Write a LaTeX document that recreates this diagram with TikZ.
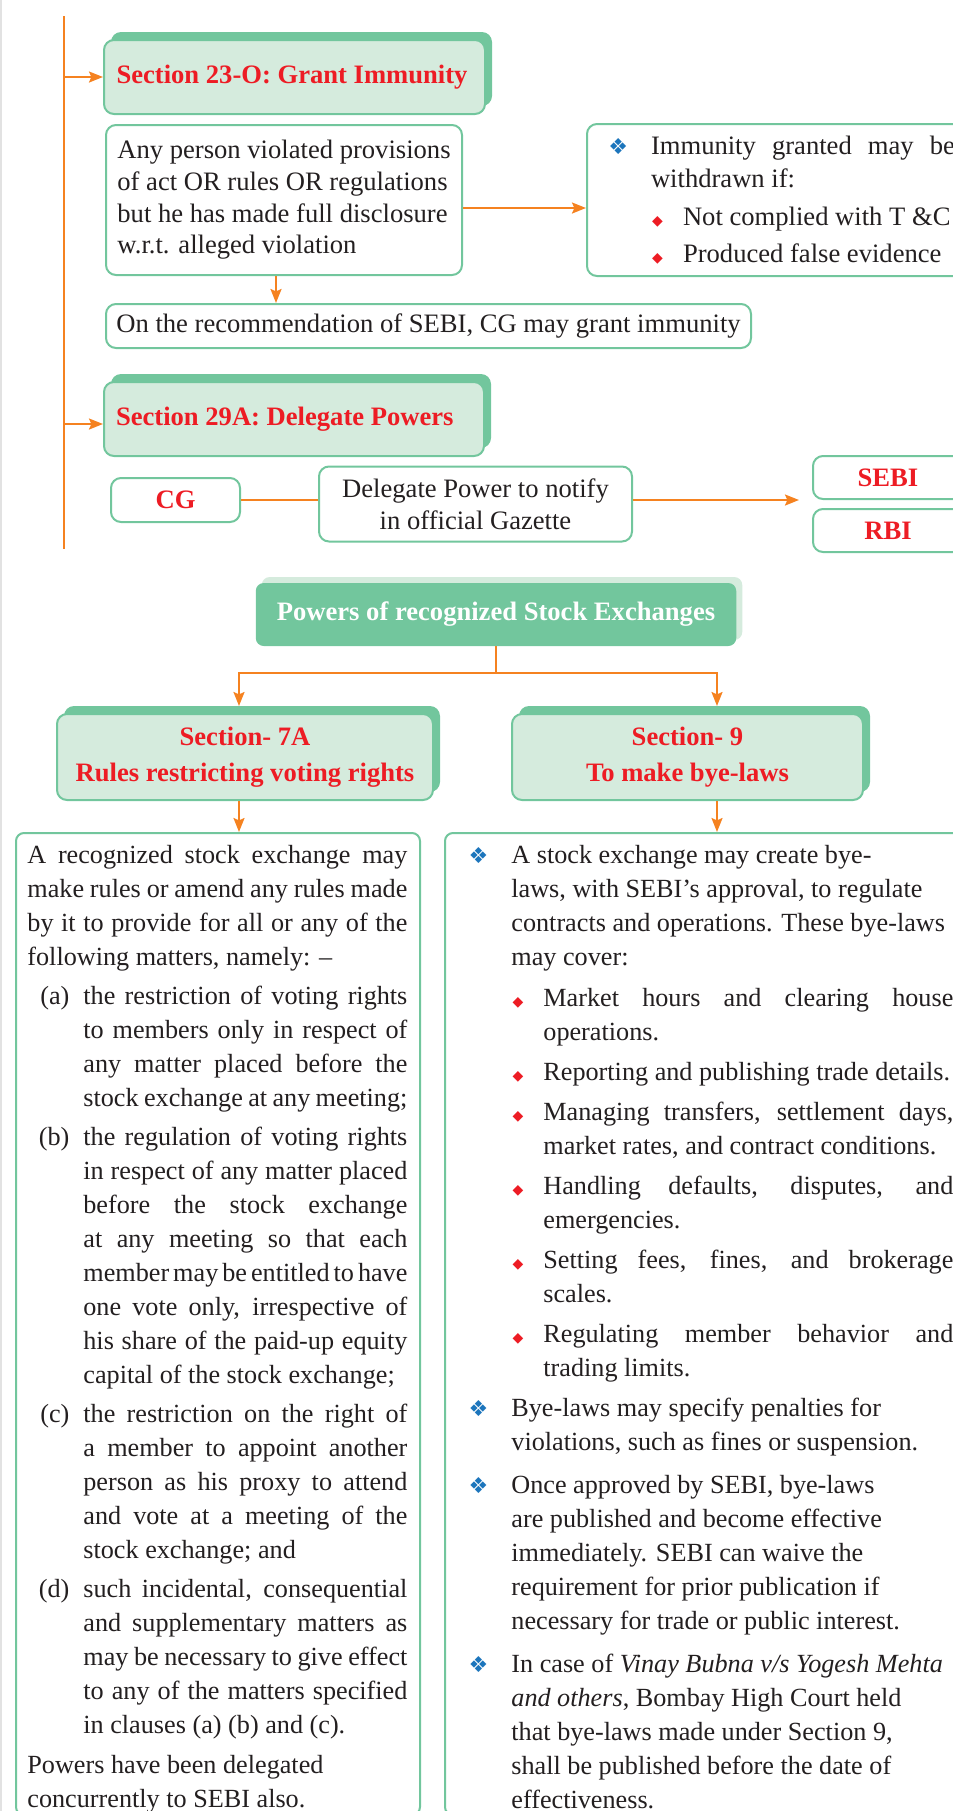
\documentclass[tikz,border=0pt]{standalone}
\usepackage{fontspec}
\setmainfont{Liberation Serif}
\newfontfamily\dingfont{DejaVu Sans}
\usepackage{xcolor}
\usepackage{tikz}
\usetikzlibrary{arrows.meta,positioning,shadows,calc}

\definecolor{arrorange}{RGB}{245,130,32}
\definecolor{secgreen}{RGB}{114,198,157}
\definecolor{seclight}{RGB}{213,235,221}
\definecolor{secred}{RGB}{237,28,36}
\definecolor{bulblue}{RGB}{28,117,188}
\definecolor{inkdark}{RGB}{35,31,32}
\definecolor{pagegray}{RGB}{226,226,226}

\newcommand{\topsize}{\fontsize{13.3}{15.85}\selectfont}
\newcommand{\headsize}{\fontsize{13.3}{18}\selectfont\bfseries}
\newcommand{\bodysetup}{\fontsize{13.1}{17}\selectfont
  \spaceskip=.25em plus .3em minus .12em\relax
  \tolerance=10000 \emergencystretch=0pt
  \hyphenpenalty=10000 \exhyphenpenalty=10000 }
% list marks
\newcommand{\bluemark}{\llap{\textcolor{bulblue}{\dingfont\fontsize{11}{11}\selectfont ❖}\hspace{11.5pt}}}
\newcommand{\redmark}{\llap{\textcolor{secred}{\dingfont\fontsize{7}{7}\selectfont ◆}\hspace{10pt}}}
\newcommand{\mainpt}[1][4.5pt]{\par\vspace{#1}\noindent\bluemark\ignorespaces}
\newcommand{\subpt}[1][3pt]{\par\vspace{#1}\hangindent=16pt\hangafter=0\noindent\redmark\ignorespaces}
\newcommand{\clause}[1]{\par\vspace{2.6pt}\hangindent=28pt\hangafter=0\noindent\llap{(#1)\hspace{7pt}}\ignorespaces}
\newcommand{\headline}[1]{\makebox[178pt][l]{#1}}

\begin{document}
\begin{tikzpicture}[
  x=0.5pt, y=-0.5pt,
  font=\topsize,
  >={Stealth[length=7pt,width=5.5pt,inset=1.2pt]},
  conn/.style={draw=arrorange, line width=1pt},
  arrline/.style={->, draw=arrorange, line width=1pt},
  plainbox/.style={draw=secgreen, fill=white, line width=1pt, rounded corners=5pt, text=inkdark},
  sechead/.style={draw=secgreen, fill=seclight, line width=1pt, rounded corners=5pt, text=secred,
    font=\headsize, general shadow={fill=secgreen, shadow xshift=3.5pt, shadow yshift=4pt}},
  powerbox/.style={fill=secgreen, rounded corners=4pt, text=white, font=\headsize,
    general shadow={fill=seclight, shadow xshift=3pt, shadow yshift=3pt}},
  keybox/.style={plainbox, font=\headsize, text=secred},
  bodytext/.style={inner sep=0pt, align=justify, text=inkdark, anchor=base west,
    execute at begin node=\bodysetup},
]
\useasboundingbox (0,0) rectangle (953,1811);
\clip (0,0) rectangle (953,1811);
\fill[pagegray] (0,0) rectangle (2,1811);

% Section 23-O
\node[sechead, inner xsep=6pt, minimum width=190.5pt, minimum height=37pt] (sec23) at (294.5,77) {\headline{Section 23-O: Grant Immunity}};
\node[plainbox, align=left, minimum width=178pt, minimum height=75pt] (anyp) at (284,200)
  {Any person violated provisions\\of act OR rules OR regulations\\but he has made full disclosure\\w.r.t. alleged violation};
\node[plainbox, anchor=west, text width=152pt, inner xsep=32pt, minimum height=76pt, align=justify,
  execute at begin node={\fontsize{13.3}{16.5}\selectfont\tolerance=10000 }] (immun) at (586,200)
  {\bluemark Immunity granted may be withdrawn if:
   \subpt[2.5pt] Not complied with T \&C
   \subpt[2pt] Produced false evidence\par};
\node[plainbox, minimum width=322.5pt, minimum height=22pt] (rec) at (428.5,326) {On the recommendation of SEBI, CG may grant immunity};

% Section 29A
\node[sechead, inner xsep=6pt, minimum width=189pt, minimum height=37pt] (sec29) at (294,419) {\headline{Section 29A: Delegate Powers}};
\node[keybox, minimum width=64.5pt, minimum height=22pt] (cg) at (175.5,500) {CG};
\node[plainbox, align=center, minimum width=156.5pt, minimum height=37.5pt] (deleg) at (475.5,504) {Delegate Power to notify\\in official Gazette};
\node[keybox, minimum width=75pt, minimum height=21.5pt] (sebi) at (888,477.5) {SEBI};
\node[keybox, minimum width=75pt, minimum height=21.5pt] (rbi) at (888,530.5) {RBI};

% trunk on the left
\coordinate (trunktop) at (64,16);
\coordinate (trunkend) at (64,549);
\coordinate (in29) at ($(sec29.west)+(0,5)$);
\draw[conn] (trunktop) -- (trunkend);
\draw[arrline] (trunktop |- sec23.west) -- (sec23.west);
\draw[arrline] (trunktop |- in29) -- (in29);

\coordinate (anyout) at ($(anyp.south)+(-8,0)$);
\coordinate (anyright) at ($(anyp.east)+(0,8)$);
\draw[arrline] (anyout) -- (anyout |- rec.north);
\draw[arrline] (anyright) -- (anyright -| immun.west);
\draw[conn] (cg.east) -- (cg.east -| deleg.west);
\coordinate (gazin) at ($(sebi.west |- cg.east)+(-13,0)$);
\draw[arrline] (deleg.east |- cg.east) -- (gazin);

% stock exchanges
\node[powerbox, minimum width=240.25pt, minimum height=31.5pt] (powers) at (496,614.5) {Powers of recognized Stock Exchanges};
\node[sechead, align=center, minimum width=188pt, minimum height=43pt] (sec7a) at (245,757) {Section- 7A\\Rules restricting voting rights};
\node[sechead, align=center, minimum width=175.5pt, minimum height=43pt] (sec9) at (687.5,757) {Section- 9\\To make bye-laws};

\coordinate (fork) at ($(powers.south)+(0,27)$);
\coordinate (in7a) at ($(sec7a.north)+(-6,-7)$);
\coordinate (in9) at ($(sec9.north)+(29.5,-7)$);
\draw[conn] (powers.south) -- (fork);
\draw[arrline] (fork) -| (in7a);
\draw[arrline] (fork) -| (in9);

\node[plainbox, rounded corners=4pt, minimum width=202pt, minimum height=491pt] (leftframe) at (218,1324) {};
\node[plainbox, rounded corners=4pt, minimum width=272pt, minimum height=491pt] (rightframe) at (717,1324) {};
\coordinate (out7a) at ($(sec7a.south)+(-6,0)$);
\coordinate (out9) at ($(sec9.south)+(29.5,0)$);
\draw[arrline] (out7a) -- (out7a |- leftframe.north);
\draw[arrline] (out9) -- (out9 |- rightframe.north);

% Section 7A text
\node[bodytext, text width=190pt] (lefttext) at (27,863) {%
A recognized stock exchange may\linebreak
make rules or amend any rules made\linebreak
by it to provide for all or any of the\linebreak
following matters, namely: --
\clause{a}the restriction of voting rights\linebreak
to members only in respect of\linebreak
any matter placed before the\linebreak
stock exchange at any meeting;
\clause{b}the regulation of voting rights\linebreak
in respect of any matter placed\linebreak
before the stock exchange\linebreak
at any meeting so that each\linebreak
member may be entitled to have\linebreak
one vote only, irrespective of\linebreak
his share of the paid-up equity\linebreak
capital of the stock exchange;
\clause{c}the restriction on the right of\linebreak
a member to appoint another\linebreak
person as his proxy to attend\linebreak
and vote at a meeting of the\linebreak
stock exchange; and
\clause{d}such incidental, consequential\linebreak
and supplementary matters as\linebreak
may be necessary to give effect\linebreak
to any of the matters specified\linebreak
in clauses (a) (b) and (c).
\par\vspace{2.6pt}\noindent Powers have been delegated\\
concurrently to SEBI also.};

% Section 9 text
\node[bodytext, text width=221pt] (righttext) at (511,863) {%
\bluemark A stock exchange may create bye-\\
laws, with SEBI's approval, to regulate\\
contracts and operations. These bye-laws\\
may cover:
\subpt[3.5pt] Market hours and clearing house\linebreak
operations.
\subpt Reporting and publishing trade details.
\subpt Managing transfers, settlement days,\linebreak
market rates, and contract conditions.
\subpt Handling defaults, disputes, and\linebreak
emergencies.
\subpt Setting fees, fines, and brokerage\linebreak
scales.
\subpt Regulating member behavior and\linebreak
trading limits.
\mainpt[3pt] Bye-laws may specify penalties for\\
violations, such as fines or suspension.
\mainpt Once approved by SEBI, bye-laws\\
are published and become effective\\
immediately. SEBI can waive the\\
requirement for prior publication if\\
necessary for trade or public interest.
\mainpt In case of \textit{Vinay Bubna v/s Yogesh Mehta}\\
\textit{and others}, Bombay High Court held\\
that bye-laws made under Section 9,\\
shall be published before the date of\\
effectiveness.};
\end{tikzpicture}
\end{document}
